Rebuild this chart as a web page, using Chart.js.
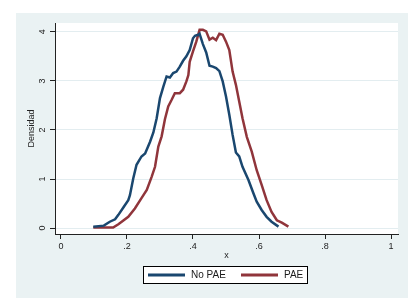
<!DOCTYPE html>
<html>
<head>
<meta charset="utf-8">
<script src="https://cdn.jsdelivr.net/npm/chart.js@4"></script>
<style>
  body { margin: 0; background: #ffffff; }
  canvas { display: block; }
</style>
</head>
<body>
<canvas id="densityChart" width="416" height="306"></canvas>
<script>
// datos
const noPaeX = [0.098, 0.13, 0.148, 0.164, 0.174, 0.189, 0.204, 0.209, 0.219, 0.229, 0.244, 0.255, 0.27, 0.28, 0.29, 0.30, 0.31, 0.32, 0.33, 0.34, 0.35, 0.36, 0.37, 0.38, 0.39, 0.40, 0.406, 0.416, 0.42, 0.43, 0.44, 0.45, 0.46, 0.47, 0.48, 0.49, 0.50, 0.51, 0.52, 0.53, 0.54, 0.55, 0.568, 0.583, 0.593, 0.608, 0.623, 0.638, 0.659];
const noPaeY = [0.03, 0.05, 0.13, 0.18, 0.27, 0.42, 0.57, 0.67, 1.01, 1.29, 1.46, 1.52, 1.76, 1.95, 2.24, 2.65, 2.88, 3.09, 3.07, 3.16, 3.19, 3.29, 3.41, 3.50, 3.63, 3.87, 3.92, 3.94, 3.96, 3.75, 3.58, 3.31, 3.29, 3.26, 3.20, 2.99, 2.68, 2.31, 1.90, 1.54, 1.46, 1.25, 0.98, 0.71, 0.54, 0.37, 0.23, 0.13, 0.03];

const paeX = [0.098, 0.158, 0.174, 0.204, 0.224, 0.244, 0.26, 0.275, 0.285, 0.295, 0.305, 0.315, 0.325, 0.335, 0.345, 0.36, 0.37, 0.38, 0.386, 0.39, 0.40, 0.41, 0.42, 0.43, 0.44, 0.45, 0.46, 0.47, 0.48, 0.49, 0.50, 0.51, 0.52, 0.53, 0.54, 0.55, 0.563, 0.578, 0.593, 0.608, 0.623, 0.638, 0.654, 0.669, 0.689];
const paeY = [0.01, 0.01, 0.08, 0.23, 0.40, 0.61, 0.78, 1.05, 1.25, 1.66, 1.87, 2.22, 2.48, 2.61, 2.75, 2.75, 2.82, 2.99, 3.12, 3.39, 3.60, 3.80, 4.04, 4.04, 4.01, 3.84, 3.88, 3.83, 3.96, 3.94, 3.80, 3.63, 3.19, 2.92, 2.58, 2.24, 1.86, 1.56, 1.18, 0.88, 0.57, 0.33, 0.16, 0.11, 0.03];

const xTickVals = [0, 0.2, 0.4, 0.6, 0.8, 1];
const xTickLabels = ["0", ".2", ".4", ".6", ".8", "1"];
const yTickVals = [0, 1, 2, 3, 4];
const yTickLabels = ["0", "1", "2", "3", "4"];

const seriesNames = ["No PAE", "PAE"];
const seriesColors = ["#1a476f", "#90353b"];

const FONT = "'Liberation Sans', Arial, sans-serif";

function toPoints(xs, ys) {
  return xs.map((x, i) => ({ x: x, y: ys[i] }));
}

// fondo estilo Stata
const backgroundPanel = {
  id: "backgroundPanel",
  beforeDraw(chart) {
    const ctx = chart.ctx;
    const a = chart.chartArea;
    ctx.save();
    ctx.fillStyle = "#ffffff";
    ctx.fillRect(0, 0, chart.width, chart.height);
    ctx.fillStyle = "#eaf2f3";
    ctx.fillRect(16, 13, 392, 285);
    ctx.fillStyle = "#ffffff";
    ctx.fillRect(a.left, a.top, a.right - a.left, a.bottom - a.top);
    ctx.restore();
  },
};

// leyenda con recuadro
const boxLegend = {
  id: "boxLegend",
  afterDraw(chart) {
    const ctx = chart.ctx;
    const bx = 143, by = 266, bw = 165, bh = 18;
    ctx.save();
    ctx.fillStyle = "#ffffff";
    ctx.fillRect(bx, by, bw, bh);
    ctx.strokeStyle = "#000000";
    ctx.lineWidth = 1;
    ctx.strokeRect(bx + 0.5, by + 0.5, bw - 1, bh - 1);
    const cy = by + bh / 2;
    const starts = [bx + 5, bx + 98];
    ctx.font = "10px " + FONT;
    ctx.textBaseline = "middle";
    chart.data.datasets.forEach((ds, i) => {
      const x0 = starts[i];
      ctx.strokeStyle = ds.borderColor;
      ctx.lineWidth = 3;
      ctx.beginPath();
      ctx.moveTo(x0, cy);
      ctx.lineTo(x0 + 37, cy);
      ctx.stroke();
      ctx.fillStyle = "#1a1a1a";
      ctx.fillText(ds.label, x0 + 43, cy + 0.5);
    });
    ctx.restore();
  },
};

new Chart(document.getElementById("densityChart"), {
  type: "line",
  data: {
    datasets: [
      {
        label: seriesNames[0],
        data: toPoints(noPaeX, noPaeY),
        borderColor: seriesColors[0],
        borderWidth: 2.5,
        pointRadius: 0,
        tension: 0,
        fill: false,
      },
      {
        label: seriesNames[1],
        data: toPoints(paeX, paeY),
        borderColor: seriesColors[1],
        borderWidth: 2.5,
        pointRadius: 0,
        tension: 0,
        fill: false,
      },
    ],
  },
  options: {
    responsive: false,
    animation: false,
    layout: { padding: { left: 16, top: 23, right: 18, bottom: 44 } },
    plugins: {
      legend: { display: false },
      tooltip: { enabled: false },
    },
    scales: {
      x: {
        type: "linear",
        min: -0.018,
        max: 1.021,
        afterBuildTicks: (axis) => { axis.ticks = xTickVals.map(v => ({ value: v })); },
        afterFit: (axis) => { axis.height = 28; },
        grid: { drawOnChartArea: false, tickLength: 5, tickColor: "#222222" },
        border: { color: "#222222", width: 1 },
        ticks: {
          padding: 2,
          maxRotation: 0,
          autoSkip: false,
          color: "#222222",
          font: { family: FONT, size: 9 },
          callback: (v) => { const i = xTickVals.indexOf(v); return i >= 0 ? xTickLabels[i] : ""; },
        },
        title: {
          display: true,
          text: "x",
          color: "#222222",
          font: { family: FONT, size: 9 },
          padding: { top: 0, bottom: 1 },
        },
      },
      y: {
        min: -0.12,
        max: 4.18,
        afterBuildTicks: (axis) => { axis.ticks = yTickVals.map(v => ({ value: v })); },
        afterFit: (axis) => { axis.width = 39; },
        grid: { color: "#e3edf0", lineWidth: 1, tickLength: 5, tickColor: "#222222" },
        border: { color: "#222222", width: 1 },
        ticks: {
          padding: 5,
          minRotation: 90,
          maxRotation: 90,
          crossAlign: "center",
          autoSkip: false,
          color: "#222222",
          font: { family: FONT, size: 9 },
          callback: (v) => { const i = yTickVals.indexOf(v); return i >= 0 ? yTickLabels[i] : ""; },
        },
        title: {
          display: true,
          text: "Densidad",
          color: "#222222",
          font: { family: FONT, size: 9 },
          padding: { top: 10, bottom: 0 },
        },
      },
    },
  },
  plugins: [backgroundPanel, boxLegend],
});
</script>
</body>
</html>
